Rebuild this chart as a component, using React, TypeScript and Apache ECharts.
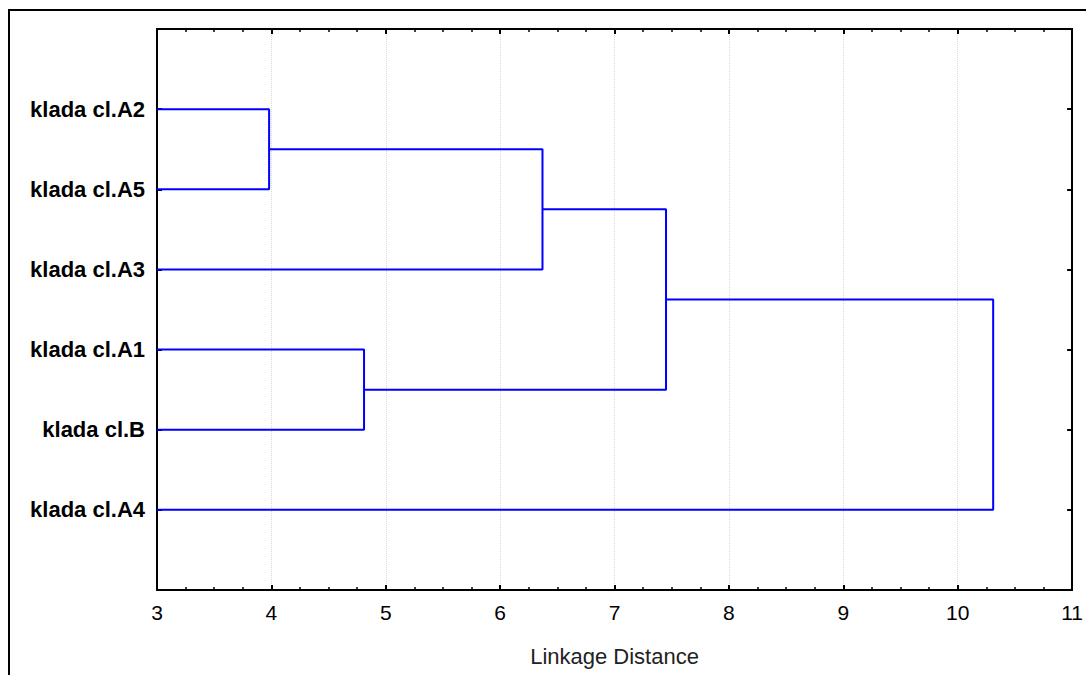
import React, { useEffect, useRef } from "react";
import * as echarts from "echarts";

// leaves top to bottom
const leaves = ["klada cl.A2", "klada cl.A5", "klada cl.A3", "klada cl.A1", "klada cl.B", "klada cl.A4"];
// merges: [leftChild, rightChild, linkage distance]; children: leaf index (0..5) or "m<k>" for merge k
const mergeLeft = ["0", "m0", "3", "m1", "m3"];
const mergeRight = ["1", "2", "4", "m2", "5"];
const mergeHeight = [3.98, 6.37, 4.81, 7.45, 10.31];
const xTicks = [3, 4, 5, 6, 7, 8, 9, 10, 11];

const LEAF_H = 3;

function nodePos(id: string, pos: { x: number; y: number }[]) {
  if (id.startsWith("m")) return pos[parseInt(id.slice(1), 10)];
  return { x: LEAF_H, y: parseInt(id, 10) + 1 };
}

export default function App() {
  const ref = useRef<HTMLDivElement>(null);
  useEffect(() => {
    if (!ref.current) return;
    const chart = echarts.init(ref.current, undefined, { renderer: "svg" });
    const pos: { x: number; y: number }[] = [];
    const series: any[] = [];
    mergeHeight.forEach((h, k) => {
      const a = nodePos(mergeLeft[k], pos);
      const b = nodePos(mergeRight[k], pos);
      pos.push({ x: h, y: (a.y + b.y) / 2 });
      series.push({
        type: "line",
        data: [
          [a.x, a.y],
          [h, a.y],
          [h, b.y],
          [b.x, b.y],
        ],
        showSymbol: false,
        symbol: "none",
        lineStyle: { color: "#0000ff", width: 2 },
        xAxisIndex: 0,
        yAxisIndex: 0,
      });
    });
    const font = "Liberation Sans, Arial, sans-serif";
    const xCommon = {
      type: "value",
      min: xTicks[0],
      max: xTicks[xTicks.length - 1],
      interval: 1,
      axisLine: { show: true, onZero: false, lineStyle: { color: "#000", width: 2 } },
      axisTick: { show: true, inside: true, length: 5, lineStyle: { color: "#000", width: 2 } },
      minorTick: { show: true, splitNumber: 4, length: 3, lineStyle: { color: "#000", width: 1.5 } },
    };
    const yCommon = {
      type: "value",
      min: 0,
      max: leaves.length + 1,
      interval: 1,
      inverse: true,
      axisLine: { show: true, onZero: false, lineStyle: { color: "#000", width: 2 } },
      axisTick: { show: true, inside: true, length: 5, lineStyle: { color: "#000", width: 2 } },
      splitLine: { show: false },
    };
    chart.setOption({
      animation: false,
      backgroundColor: "#fff",
      graphic: [
        {
          type: "rect",
          shape: { x: 9, y: 10, width: 1200, height: 800 },
          style: { fill: "none", stroke: "#000", lineWidth: 2 },
          silent: true,
        },
      ],
      grid: { left: 157, top: 29, right: 12, bottom: 85, containLabel: false },
      xAxis: [
        {
          ...xCommon,
          position: "bottom",
          name: "Linkage Distance",
          nameLocation: "middle",
          nameGap: 55,
          nameTextStyle: { color: "#222", fontSize: 22, fontFamily: font },
          axisLabel: { color: "#000", fontSize: 21, fontFamily: font, margin: 12 },
          splitLine: { show: true, lineStyle: { color: "#d8d8d8", type: "dotted", width: 1 } },
        },
        {
          ...xCommon,
          position: "top",
          axisLabel: { show: false },
          splitLine: { show: false },
        },
      ],
      yAxis: [
        {
          ...yCommon,
          position: "left",
          axisLabel: {
            color: "#000",
            fontSize: 22,
            fontWeight: "bold",
            fontFamily: font,
            margin: 12,
            formatter: (v: number) => (v >= 1 && v <= leaves.length ? leaves[v - 1] : ""),
          },
        },
        {
          ...yCommon,
          position: "right",
          axisLabel: { show: false },
        },
      ],
      series,
    });
    return () => chart.dispose();
  }, []);
  return (
    <div
      ref={ref}
      style={{ position: "fixed", left: 0, top: 0, width: 1086, height: 675 }}
    />
  );
}
